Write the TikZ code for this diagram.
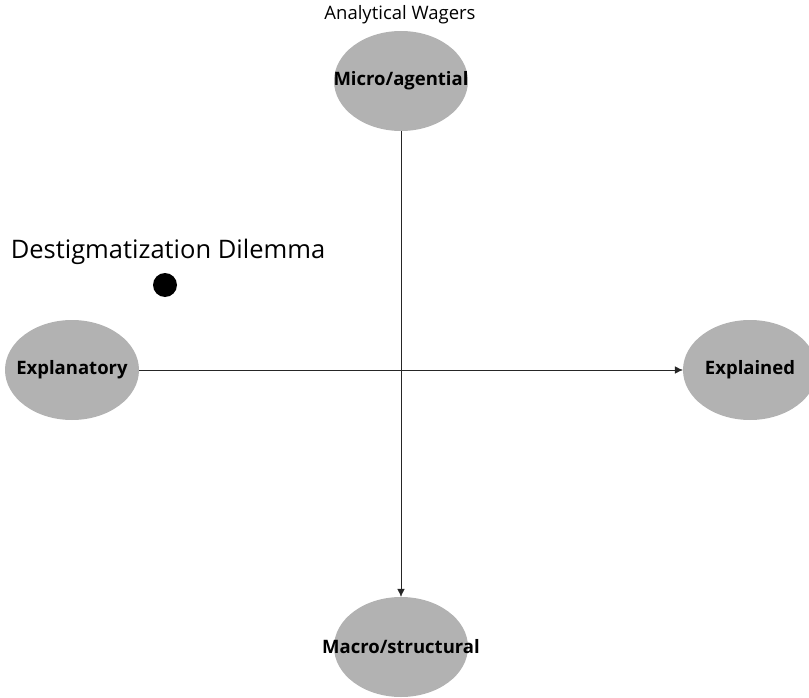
\documentclass[tikz,border=0pt]{standalone}
\usepackage{fontspec}
\setmainfont{Open Sans}
\usetikzlibrary{shapes.geometric, arrows.meta}

\tikzset{
  wager/.style={ellipse, fill=black!30, minimum width=134pt, minimum height=100pt, inner sep=0pt},
  wagertext/.style={font=\bfseries\fontsize{18.5}{22}\selectfont, inner sep=0pt},
  axis/.style={black!85, -{Latex[length=8pt,width=7.5pt]}},
}

\begin{document}
\begin{tikzpicture}[x=1pt, y=-1pt]
  \useasboundingbox (0,0) rectangle (809,698);
  \clip (0,0) rectangle (809,698);
  % ellipses
  \node[wager] (micro) at (401,81){};
  \node[wager] (macro) at (401,647){};
  \node[wager] (explanatory) at (72,370){};
  \node[wager] (explained) at (750,370){};
  \node[wagertext] (microtext) at (micro.center){Micro/agential};
  \node[wagertext] (macrotext) at (macro.center){Macro/structural};
  \node[wagertext] (explanatorytext) at (explanatory.center){Explanatory};
  \node[wagertext] (explainedtext) at (explained.center){Explained};
  % axes
  \draw[axis] (micro) -- (macro);
  \draw[axis] (explanatory) -- (explained);
  % labels
  \node[font=\fontsize{18.5}{22}\selectfont] (title) at (400,15){Analytical Wagers};
  \node[font=\fontsize{25.5}{30}\selectfont] (dilemma) at (168,252){Destigmatization Dilemma};
  \fill (165,285) circle (12) coordinate (dot);
\end{tikzpicture}
\end{document}
